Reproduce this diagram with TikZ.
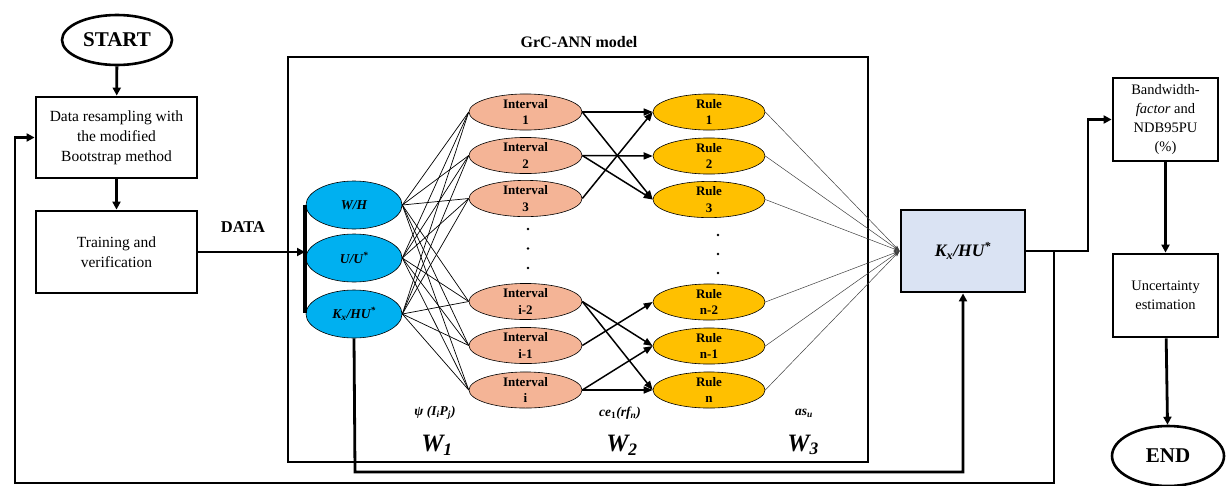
\documentclass[tikz,border=0pt]{standalone}
\usepackage{fontspec}
\setmainfont{Liberation Serif}
\usetikzlibrary{shapes.geometric,arrows.meta}
\definecolor{inblue}{HTML}{00B0F0}
\definecolor{intsalmon}{HTML}{F4B496}
\definecolor{rulegold}{HTML}{FFC000}
\definecolor{outfill}{HTML}{DAE3F3}
\tikzset{
  flowarrow/.style={line width=2.8pt,-{Triangle[length=8pt,width=8pt]}},
  procbox/.style={draw,line width=2.8pt,rectangle,align=center,inner sep=2pt,
    font=\fontsize{15.5}{20}\selectfont},
  term/.style={draw,line width=2.6pt,ellipse,inner sep=0pt,
    font=\bfseries\fontsize{21}{24}\selectfont},
  innode/.style={draw,line width=0.6pt,ellipse,fill=inblue,inner sep=0pt,
    minimum width=96pt,minimum height=48pt,
    font=\bfseries\itshape\fontsize{13.5}{16}\selectfont},
  intnode/.style={draw,line width=0.6pt,ellipse,fill=intsalmon,inner sep=0pt,
    minimum width=113pt,minimum height=35pt,align=center,
    font=\bfseries\fontsize{13}{16.5}\selectfont},
  rulenode/.style={draw,line width=0.6pt,ellipse,fill=rulegold,inner sep=0pt,
    minimum width=112pt,minimum height=35pt,align=center,
    font=\bfseries\fontsize{13}{16.5}\selectfont},
  mesh/.style={line width=0.7pt},
  ruleto/.style={line width=1.5pt,-{Triangle[length=9pt,width=7pt]}},
  toout/.style={line width=0.5pt,draw=black!75,-{Stealth[length=6pt,width=4pt]}},
  wlabel/.style={font=\bfseries\itshape\fontsize{13.5}{15}\selectfont},
  wbig/.style={font=\bfseries\itshape\fontsize{25}{27}\selectfont},
  dotmark/.style={circle,fill=black,inner sep=0pt,minimum size=2.6pt}
}
\begin{document}
\begin{tikzpicture}[x=1pt,y=-1pt]
\useasboundingbox (0,0) rectangle (1230,485);

% main flowchart column
\node[term,minimum width=110pt,minimum height=50pt] (start) at (117,40) {START};
\node[procbox,minimum width=161pt,minimum height=81pt] (resample) at (116.5,137.5)
  {Data resampling with\\the modified\\Bootstrap method};
\node[procbox,minimum width=161pt,minimum height=82pt] (train) at (116.5,252)
  {Training and\\verification};
\draw[flowarrow] (start) -- (resample);
\draw[flowarrow] (resample) -- (train);
\node[font=\bfseries\fontsize{16.5}{18}\selectfont] (datalbl) at (243,227) {DATA};

% GrC-ANN model frame
\draw[line width=2.8pt] (288,57) rectangle (868,462);
\node[font=\bfseries\fontsize{16}{18}\selectfont] (title) at (579,42) {GrC-ANN model};

% input layer
\node[innode] (in1) at (354,205) {W/H};
\node[innode] (in2) at (354,258) {U/U\textsuperscript{*}};
\node[innode] (in3) at (354,314) {K\textsubscript{x}/HU\textsuperscript{*}};
\coordinate (brtop) at (305,205);
\coordinate (brbot) at (305,313);
\coordinate (brin) at (305,252);
\draw[line width=3.2pt] (brtop) -- (brbot);
\draw[flowarrow] (train.east) -- (brin);

% interval layer
\node[intnode] (i1) at (525.5,112) {Interval\\1};
\node[intnode] (i2) at (525.5,155.5) {Interval\\2};
\node[intnode] (i3) at (525.5,198.5) {Interval\\3};
\node[intnode] (i4) at (525.5,301.5) {Interval\\i-2};
\node[intnode] (i5) at (525.5,345.5) {Interval\\i-1};
\node[intnode] (i6) at (525.5,390) {Interval\\i};

% rule layer
\node[rulenode] (r1) at (709,112) {Rule\\1};
\node[rulenode] (r2) at (709,156) {Rule\\2};
\node[rulenode] (r3) at (709,199.5) {Rule\\3};
\node[rulenode] (r4) at (709,302) {Rule\\n-2};
\node[rulenode] (r5) at (709,346) {Rule\\n-1};
\node[rulenode] (r6) at (709,390) {Rule\\n};

% ellipsis dots
\node[dotmark] (dl1) at (528,229) {};
\node[dotmark] (dl2) at (528,248.5) {};
\node[dotmark] (dl3) at (528,268) {};
\node[dotmark] (dr1) at (718,235) {};
\node[dotmark] (dr2) at (718,254) {};
\node[dotmark] (dr3) at (718,273) {};

% full connection input -> intervals
\foreach \a in {in1,in2,in3}{
  \foreach \b in {i1,i2,i3,i4,i5,i6}{
    \draw[mesh] (\a.east) -- (\b.west);
  }
}

% interval -> rule links
\draw[ruleto] (i1.east) -- (r1.west);
\draw[ruleto] (i1.east) -- (r3.west);
\draw[ruleto] (i2.east) -- (r2.west);
\draw[ruleto] (i2.east) -- (r3.west);
\draw[ruleto] (i3.east) -- (r1.west);
\draw[ruleto] (i4.east) -- (r5.west);
\draw[ruleto] (i4.east) -- (r6.west);
\draw[ruleto] (i5.east) -- (r4.west);
\draw[ruleto] (i6.east) -- (r5.west);
\draw[ruleto] (i6.east) -- (r6.west);

% output node
\node[draw,line width=2.8pt,fill=outfill,minimum width=124pt,minimum height=82pt,
  font=\bfseries\itshape\fontsize{17.5}{20}\selectfont] (out) at (963,251)
  {K\textsubscript{x}/HU\textsuperscript{*}};
\foreach \r in {r1,r2,r3,r4,r5,r6}{
  \draw[toout] (\r.east) -- (out.west);
}

% weight labels
\node[wlabel] (psi) at (435,413) {ψ (I\textsubscript{i}P\textsubscript{j})};
\node[wbig] (w1) at (437,445) {W\textsubscript{1}};
\node[wlabel] (ce) at (620,413) {ce\textsubscript{\upshape 1}(rf\textsubscript{n})};
\node[wbig] (w2) at (622,445) {W\textsubscript{2}};
\node[wlabel] (as) at (804,413) {as\textsubscript{u}};
\node[wbig] (w3) at (803,445) {W\textsubscript{3}};

% right column
\node[procbox,minimum width=105pt,minimum height=83pt,
  font=\fontsize{14.5}{19}\selectfont] (band) at (1165.5,119.5)
  {Bandwidth-\\\textit{factor} and\\NDB95PU\\(\%)};
\node[procbox,minimum width=105pt,minimum height=83pt,
  font=\fontsize{14.5}{19}\selectfont] (unc) at (1165.5,295.5)
  {Uncertainty\\estimation};
\node[term,minimum width=112pt,minimum height=60pt] (endn) at (1168,456) {END};
\draw[flowarrow] (band) -- (unc);
\draw[flowarrow] (unc) -- (endn);

% output to bandwidth box
\coordinate (split) at (1054,251);
\coordinate (bend) at (1088,251);
\draw[flowarrow] (out.east) -- (bend) |- (band.west);

% K_x/HU* input carried round to the output node
\coordinate (kxdown) at (355,472);
\draw[flowarrow] (in3.south) -- (kxdown) -| (out.south);

% outer loop back to resampling
\coordinate (loopa) at (1054,483);
\coordinate (loopb) at (15,483);
\draw[flowarrow] (split) -- (loopa) -- (loopb) |- (resample.west);
\end{tikzpicture}
\end{document}
